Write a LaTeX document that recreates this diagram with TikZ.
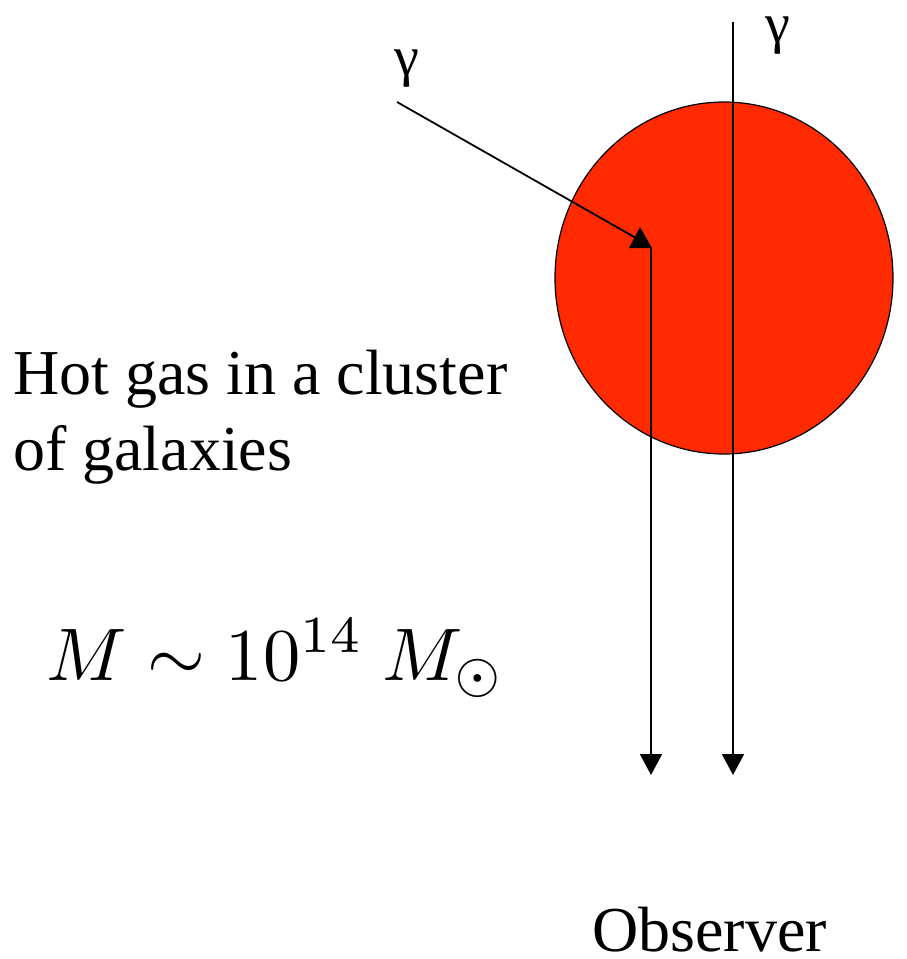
\documentclass[tikz,border=0pt]{standalone}
\usepackage{fix-cm}
\usepackage{fontspec}
\setmainfont{Liberation Serif}
\usetikzlibrary{arrows.meta}
\definecolor{hotgas}{RGB}{255,42,0}
\begin{document}
\begin{tikzpicture}[x=1pt,y=-1pt,
  ray/.style={line width=1.8pt},
  tip/.style={-{Triangle[length=21pt,width=22pt]}},
  lbl/.style={inner sep=0pt,anchor=base west,font=\fontsize{64}{70}\selectfont}]
\useasboundingbox (0,0) rectangle (907,959);
\fill[hotgas,draw=black,line width=1.2pt] (724,278) ellipse [x radius=169, y radius=176];
\coordinate (s1) at (397,102);
\coordinate (k1) at (636,238);
\coordinate (c1) at (651,247);
\coordinate (e1) at (651,775);
\coordinate (s2) at (733,22);
\coordinate (e2) at (733,775);
\draw[ray] (s1) -- (k1);
\fill (640,227) -- (629,248) -- (652,248) -- cycle;
\draw[ray,tip] (c1) -- (e1);
\draw[ray,tip] (s2) -- (e2);
\node[lbl,font=\fontsize{56}{60}\selectfont] (g1) at (394,75) {γ};
\node[lbl,font=\fontsize{56}{60}\selectfont] (g2) at (765,42) {γ};
\node[lbl] (t1) at (13,394) {Hot gas in a cluster};
\node[lbl] (t2) at (13,470) {of galaxies};
\node[lbl,font=\normalsize] (m) at (46,680) {\scalebox{7.45}{$M\sim 10^{14}\ M_\odot$}};
\node[lbl,text depth=0pt] (obs) at (592,951) {Observer};
\end{tikzpicture}
\end{document}
